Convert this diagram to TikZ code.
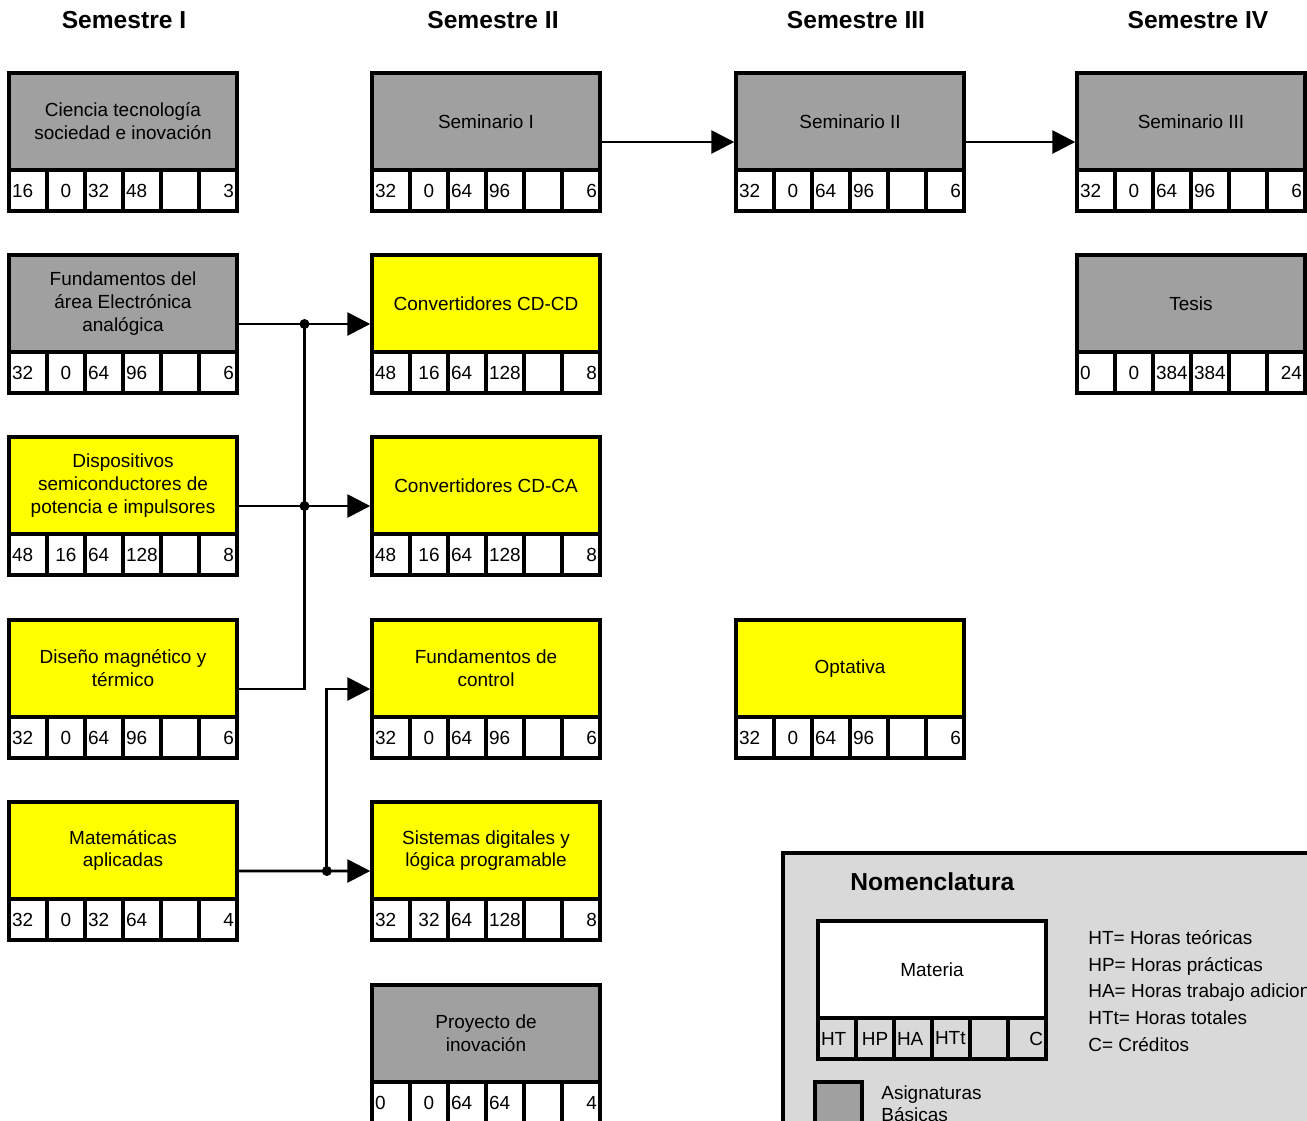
\documentclass[tikz,border=0pt]{standalone}
\usepackage{fontspec}
\setmainfont{Liberation Sans}
\usetikzlibrary{arrows.meta,calc}

\definecolor{grisbasica}{RGB}{160,160,160}
\definecolor{amarillo}{RGB}{255,255,0}
\definecolor{grisfondo}{RGB}{217,217,217}

\newcommand{\letra}{\fontsize{10.8pt}{13pt}\selectfont}

\tikzset{
  marco/.style={draw, line width=2pt, minimum width=4.56cm, minimum height=2.76cm, inner sep=0pt},
  titulo/.style={draw, line width=2pt, minimum width=4.56cm, minimum height=1.94cm, inner sep=0pt, align=center, font=\letra},
  basica/.style={titulo, fill=grisbasica},
  especialidad/.style={titulo, fill=amarillo},
  leyenda/.style={titulo, fill=white},
  celda/.style={draw, line width=2pt, minimum width=0.76cm, minimum height=0.82cm, inner sep=0.06cm, text width=0.64cm, font=\letra, fill=white},
  flecha/.style={line width=1.6pt, -{Triangle[length=0.46cm, width=0.46cm]}},
  linea/.style={line width=1.6pt},
  semestre/.style={font=\fontsize{14pt}{17pt}\selectfont\bfseries},
}

% #1 nombre, #2 x, #3 y (esquina superior izquierda), #4 estilo, #5 materia, #6 horas, #7 estilo de celdas
\newcommand{\materia}[7]{%
  \node[marco] (#1) at (#2+114, #3+69) {};
  \node[#4] (#1-t) at (#2+114, #3+48.5) {#5};
  \foreach \v [count=\i] in {#6} {
    \ifcase\i\or\def\alin{left}\or\def\alin{center}\or\def\alin{left}\or\def\alin{left}\or\def\alin{center}\else\def\alin{right}\fi
    \node[celda, #7, align/.expanded=\alin] (#1-\i) at (#2-19+38*\i, #3+117.5) {\v};
  }
}

\begin{document}
\begin{tikzpicture}[x=0.02cm, y=-0.02cm]
  \useasboundingbox (0,0) rectangle (1307,1120);
  \clip (0,0) rectangle (1307,1120);

  % semestres
  \node[semestre] (s1) at (124,20) {Semestre I};
  \node[semestre] (s2) at (493,20) {Semestre II};
  \node[semestre] (s3) at (856,20) {Semestre III};
  \node[semestre] (s4) at (1198,20) {Semestre IV};

  % semestre I
  \materia{cts}{9}{73}{basica}{Ciencia tecnología\\sociedad e inovación}{16,0,32,48,,3}{}
  \materia{fea}{9}{255}{basica}{Fundamentos del\\área Electrónica\\analógica}{32,0,64,96,,6}{}
  \materia{dsp}{9}{437}{especialidad}{Dispositivos\\semiconductores de\\potencia e impulsores}{48,16,64,128,,8}{}
  \materia{dmt}{9}{620}{especialidad}{Diseño magnético y\\térmico}{32,0,64,96,,6}{}
  \materia{mat}{9}{802}{especialidad}{Matemáticas\\aplicadas}{32,0,32,64,,4}{}

  % semestre II
  \materia{sem1}{372}{73}{basica}{Seminario I}{32,0,64,96,,6}{}
  \materia{cdcd}{372}{255}{especialidad}{Convertidores CD-CD}{48,16,64,128,,8}{}
  \materia{cdca}{372}{437}{especialidad}{Convertidores CD-CA}{48,16,64,128,,8}{}
  \materia{fct}{372}{620}{especialidad}{Fundamentos de\\control}{32,0,64,96,,6}{}
  \materia{sdl}{372}{802}{especialidad}{Sistemas digitales y\\lógica programable}{32,32,64,128,,8}{}
  \materia{pin}{372}{985}{basica}{Proyecto de\\inovación}{0,0,64,64,,4}{}

  % semestre III
  \materia{sem2}{736}{73}{basica}{Seminario II}{32,0,64,96,,6}{}
  \materia{opt}{736}{620}{especialidad}{Optativa}{32,0,64,96,,6}{}

  % semestre IV
  \materia{sem3}{1077}{73}{basica}{Seminario III}{32,0,64,96,,6}{}
  \materia{tes}{1077}{255}{basica}{Tesis}{0,0,384,384,,24}{}

  % seriaciones
  \path (sem1) edge[flecha] (sem2)
        (sem2) edge[flecha] (sem3);

  \coordinate (j1) at ($(fea.east)!0.5!(cdcd.west)$);
  \coordinate (j2) at ($(dsp.east)!0.5!(cdca.west)$);
  \coordinate (j3) at ($(mat.east)!0.67!(sdl.west)$);

  \draw[linea] (fea.east) -- (j1);
  \draw[flecha] (j1) -- (cdcd.west);
  \draw[linea] (dsp.east) -- (j2);
  \draw[flecha] (j2) -- (cdca.west);
  \draw[linea] (dmt.east) -| (j1);
  \draw[linea] (mat.east) -- (j3);
  \draw[flecha] (j3) -- (sdl.west);
  \draw[flecha] (j3) |- (fct.west);
  \foreach \j in {j1,j2,j3}
    \fill (\j) circle[radius=0.1cm];

  % nomenclatura
  \node[draw, line width=2pt, fill=grisfondo, anchor=north west, minimum width=11.2cm, minimum height=6cm] (nom) at (781,851) {};
  \node[semestre, anchor=west, inner sep=0pt] (nomt) at (850,882) {Nomenclatura};
  \materia{mt}{818}{921}{leyenda}{Materia}{HT,HP,HA,HTt,,C}{fill=grisfondo}
  \node[anchor=west, inner sep=0pt, align=left, font=\fontsize{10.8pt}{15.3pt}\selectfont] (claves) at (1088,991)
    {HT= Horas teóricas\\HP= Horas prácticas\\HA= Horas trabajo adicional\\HTt= Horas totales\\C= Créditos};
  \node[draw, line width=2pt, fill=grisbasica, anchor=north west, minimum width=0.94cm, minimum height=1.6cm] (swb) at (813,1080) {};
  \node[anchor=west, inner sep=0pt, align=left, font=\fontsize{10.8pt}{12.5pt}\selectfont] (swbt) at (881,1104) {Asignaturas\\Básicas};
\end{tikzpicture}
\end{document}
